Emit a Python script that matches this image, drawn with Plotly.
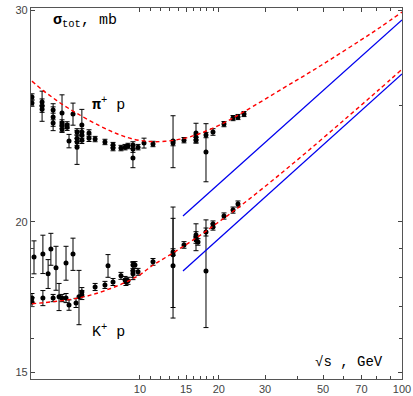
import plotly.graph_objects as go

# pi+ p data: sqrt(s) [GeV], sigma_tot [mb], error [mb]
pi_s = [3.87, 3.87, 4.23, 4.23, 4.23, 4.66, 4.66, 4.66, 5.04, 5.04, 5.04, 5.04,
        5.27, 5.27, 5.36, 5.55, 5.75, 5.75, 5.75, 5.75, 6.00, 6.00, 6.00, 6.00,
        6.39, 6.39, 6.74, 7.35, 7.89, 7.89, 8.46, 8.77, 9.0, 9.40, 9.40, 9.40,
        9.83, 10.36, 11.21, 13.37, 13.37, 14.72, 16.36, 16.36, 16.36, 17.86, 17.86,
        18.99, 20.92, 22.65, 23.66, 24.95]
pi_sig = [25.41, 25.11, 25.16, 24.97, 24.82, 24.78, 24.45, 24.17, 24.64, 24.17, 24.08, 23.89,
          24.08, 23.98, 23.35, 24.59, 23.76, 23.48, 23.31, 23.08, 24.08, 23.76, 23.62, 23.39,
          23.71, 23.48, 23.44, 23.31, 23.17, 23.04, 23.04, 23.08, 23.13, 23.17, 23.00, 22.61,
          23.08, 23.26, 23.22, 23.35, 23.26, 23.39, 23.71, 23.53, 23.39, 23.62, 22.87,
          23.76, 24.12, 24.40, 24.45, 24.59]
pi_err = [0.15, 0.15, 0.15, 0.72, 0.15, 0.15, 0.63, 0.15, 0.87, 0.15, 0.15, 0.15,
          0.15, 0.15, 0.30, 0.52, 0.15, 0.15, 0.15, 0.75, 0.73, 0.15, 0.15, 0.15,
          0.15, 0.15, 0.12, 0.12, 0.12, 0.12, 0.12, 0.12, 0.12, 0.15, 0.15, 0.42,
          0.12, 0.22, 0.12, 1.16, 0.12, 0.12, 0.45, 0.12, 0.12, 0.12, 1.27,
          0.15, 0.12, 0.12, 0.12, 0.12]

# K+ p data
k_s = [3.87, 3.87, 3.94, 4.26, 4.26, 4.46, 4.57, 4.66, 4.78, 4.91, 5.04, 5.22, 5.22,
       5.36, 5.55, 5.70, 5.85, 6.00, 6.00, 6.74, 7.35, 7.55, 7.89, 8.46, 8.77, 8.84, 9.0,
       9.40, 9.40, 9.40, 9.57, 9.83, 11.21, 13.37, 13.37, 13.37, 14.72, 16.36, 16.36, 16.36,
       16.65, 17.86, 17.86, 18.99, 18.99, 20.92, 22.65, 23.66]
k_sig = [17.29, 17.16, 18.70, 18.81, 17.29, 18.11, 18.99, 17.29, 18.32, 17.33, 17.29, 18.49, 17.29,
         17.06, 18.81, 17.13, 17.33, 17.49, 17.39, 17.66, 17.73, 18.39, 17.83, 18.04, 17.90, 17.83, 17.87,
         18.42, 18.21, 18.11, 18.42, 18.18, 18.53, 18.88, 18.78, 18.39, 19.14, 19.51, 19.43, 19.32,
         19.25, 19.62, 18.21, 19.92, 19.81, 20.23, 20.46, 20.70]
k_err = [0.15, 0.15, 0.59, 0.69, 0.25, 0.50, 0.58, 0.12, 0.77, 0.45, 0.12, 0.60, 0.15,
         0.17, 0.58, 0.15, 0.90, 0.15, 0.15, 0.12, 0.12, 0.40, 0.12, 0.12, 0.12, 0.12, 0.12,
         0.12, 0.30, 0.12, 0.12, 0.12, 0.12, 0.12, 1.80, 1.75, 0.12, 0.12, 0.50, 0.12,
         0.12, 0.15, 1.87, 0.12, 0.12, 0.12, 0.12, 0.12]

# fit curves (red dashed)
pi_fit_s = [3.87, 4.26, 4.66, 5.08, 5.75, 7.04, 8.17, 9.40, 10.92, 12.46, 14.72, 16.94,
            20.92, 24.95, 35.14, 44.55, 54.53, 69.14, 82.4, 100.0]
pi_fit_sig = [26.19, 25.73, 25.36, 25.03, 24.62, 24.03, 23.68, 23.44, 23.33, 23.34, 23.47, 23.69,
              24.18, 24.70, 25.83, 26.64, 27.38, 28.30, 29.02, 29.89]
k_fit_s = [3.87, 5.90, 7.68, 9.74, 11.21, 13.37, 16.51, 19.67, 24.08, 34.22, 47.8, 63.3, 80.3, 100.0]
k_fit_sig = [17.10, 17.30, 17.60, 18.02, 18.41, 18.85, 19.42, 19.95, 20.61, 21.91, 23.29, 24.55, 25.68, 26.79]

# blue lines
blue_s = [14.59, 100.0]
blue_pi_sig = [20.23, 29.44]
blue_k_sig = [18.21, 26.55]

x_ticks = [10, 15, 20, 30, 50, 70, 100]
x_minor = [11, 12, 13, 14, 16, 17, 18, 19, 40, 60, 80, 90]
y_ticks = [15, 20, 30]
y_minor = [16, 17, 18, 19, 25]

fig = go.Figure()

for s, sig, err in [(pi_s, pi_sig, pi_err), (k_s, k_sig, k_err)]:
    fig.add_trace(go.Scatter(
        x=s, y=sig, mode="markers",
        marker=dict(color="black", size=5, symbol="circle"),
        error_y=dict(type="data", array=err, visible=True, color="black",
                     thickness=1, width=2.5),
        hoverinfo="x+y"))

fig.add_trace(go.Scatter(x=pi_fit_s, y=pi_fit_sig, mode="lines", line_shape="spline",
                         line=dict(color="#ff0000", width=1.4, dash="4px,3px", smoothing=1.0)))
fig.add_trace(go.Scatter(x=k_fit_s, y=k_fit_sig, mode="lines", line_shape="spline",
                         line=dict(color="#ff0000", width=1.4, dash="4px,3px", smoothing=1.0)))
fig.add_trace(go.Scatter(x=blue_s, y=blue_pi_sig, mode="lines",
                         line=dict(color="#0000ee", width=1.3)))
fig.add_trace(go.Scatter(x=blue_s, y=blue_k_sig, mode="lines",
                         line=dict(color="#0000ee", width=1.3)))

mono = "Liberation Mono, Courier New, monospace"

fig.add_annotation(x=0.055, y=0.965, xref="paper", yref="paper", xanchor="left", yanchor="middle",
                   text="<b>σ</b><sub>tot</sub>, mb", showarrow=False,
                   font=dict(family=mono, size=15, color="black"))
fig.add_annotation(x=0.16, y=0.74, xref="paper", yref="paper", xanchor="left", yanchor="middle",
                   text="<b>π</b><sup>+</sup> p", showarrow=False,
                   font=dict(family=mono, size=15, color="black"))
fig.add_annotation(x=0.16, y=0.13, xref="paper", yref="paper", xanchor="left", yanchor="middle",
                   text="K<sup>+</sup> p", showarrow=False,
                   font=dict(family=mono, size=15, color="black"))
fig.add_annotation(x=0.76, y=0.045, xref="paper", yref="paper", xanchor="left", yanchor="middle",
                   text="√s , GeV", showarrow=False,
                   font=dict(family=mono, size=14, color="black"))

fig.update_layout(
    width=413, height=396,
    margin=dict(l=31, r=11, t=8, b=17),
    plot_bgcolor="white", paper_bgcolor="white",
    showlegend=False,
    xaxis=dict(type="log", range=[0.584, 2.0], tickmode="array", tickvals=x_ticks,
               ticktext=[str(v) for v in x_ticks], automargin=False,
               ticks="inside", ticklen=4, tickcolor="#444", showgrid=False, zeroline=False,
               showline=True, linecolor="#555", linewidth=1.2, mirror="ticks",
               minor=dict(tickmode="array", tickvals=x_minor, ticks="inside", ticklen=2.5,
                          tickcolor="#444", showgrid=False),
               tickfont=dict(family="Liberation Sans, Arial", size=11, color="#444")),
    yaxis=dict(type="log", range=[1.1705, 1.4789], tickmode="array", tickvals=y_ticks,
               ticktext=[str(v) for v in y_ticks], automargin=False,
               ticks="inside", ticklen=4, tickcolor="#444", showgrid=False, zeroline=False,
               showline=True, linecolor="#555", linewidth=1.2, mirror="ticks",
               minor=dict(tickmode="array", tickvals=y_minor, ticks="inside", ticklen=2.5,
                          tickcolor="#444", showgrid=False),
               tickfont=dict(family="Liberation Sans, Arial", size=11, color="#444")),
)

fig.write_html("out.html", config={"displayModeBar": False},
               post_script="document.body.style.margin='0';")
